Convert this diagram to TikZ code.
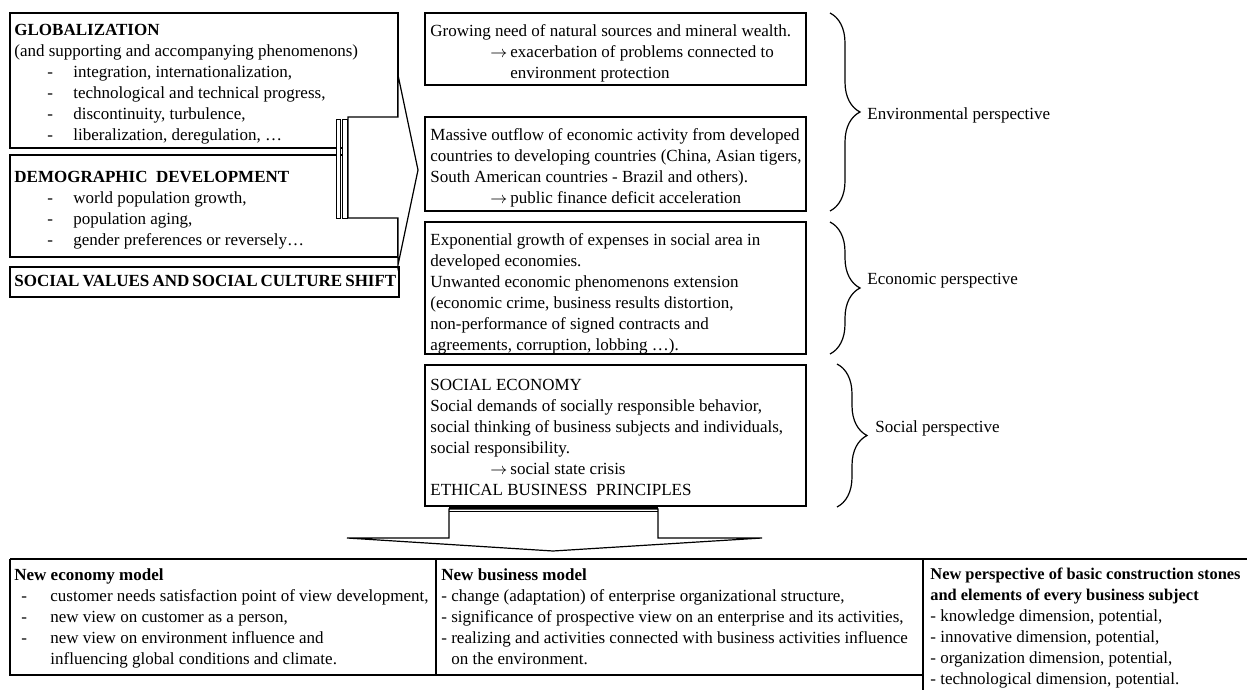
\documentclass[tikz,border=0pt]{standalone}
\usepackage{fontspec}
\setmainfont{Liberation Serif}
\usetikzlibrary{decorations.pathreplacing}

\tikzset{
  box/.style={draw, line width=0.6pt},
  txt/.style={anchor=north west, inner sep=0pt, align=left, font=\fontsize{8.5}{10.5}\selectfont},
  perspbrace/.style={decorate, decoration={brace, amplitude=15pt}, line width=0.6pt},
  persplabel/.style={anchor=west, inner sep=0pt, font=\fontsize{8.5}{10.5}\selectfont},
}
\newcommand{\dashrow}[2]{\hspace*{#1}\makebox[#2][l]{-}}
\newcommand{\arrowrow}{\hspace*{30pt}\makebox[10pt][l]{$\rightarrow$}}

\begin{document}
\begin{tikzpicture}[x=0.5pt,y=-0.5pt]
    \useasboundingbox (0,0) rectangle (1247,690);
    % left boxes
    \draw[box] (10,13) rectangle (398,148);
    \draw[box] (10,155) rectangle (398,257);
    \draw[box] (10,267) rectangle (399,297);
    \node[txt] (glob) at (14,24) {\textbf{GLOBALIZATION}\\
      (and supporting and accompanying phenomenons)\\
      \dashrow{16.5pt}{13pt}integration, internationalization,\\
      \dashrow{16.5pt}{13pt}technological and technical progress,\\
      \dashrow{16.5pt}{13pt}discontinuity, turbulence,\\
      \dashrow{16.5pt}{13pt}liberalization, deregulation, …};
    \node[txt] (demo) at (14,171) {\textbf{DEMOGRAPHIC\ \ DEVELOPMENT}\\
      \dashrow{16.5pt}{13pt}world population growth,\\
      \dashrow{16.5pt}{13pt}population aging,\\
      \dashrow{16.5pt}{13pt}gender preferences or reversely…};
    \node[txt] (values) at (14,275) {\makebox[191pt][s]{\textbf{SOCIAL VALUES AND SOCIAL CULTURE SHIFT}}};
    % striped arrow to the right
    \draw[box, fill=white] (348,117) -- (398,117) -- (398,75) -- (418,170) -- (398,265) -- (398,218) -- (348,218) -- cycle;
    \draw[line width=0.5pt, fill=white] (336,120) rectangle (340,218);
    \draw[line width=0.5pt, fill=white] (342,120) rectangle (347,218);
    % right boxes
    \draw[box] (425,13) rectangle (806,85);
    \draw[box] (425,117) rectangle (806,211);
    \draw[box] (425,222) rectangle (806,354);
    \draw[box] (425,365) rectangle (806,506);
    \node[txt] (nature) at (430,24) {Growing need of natural sources and mineral wealth.\\
      \arrowrow exacerbation of problems connected to\\
      \hspace*{40pt}environment protection};
    \node[txt] (outflow) at (430,128) {Massive outflow of economic activity from developed\\
      countries to developing countries (China, Asian tigers,\\
      South American countries - Brazil and others).\\
      \arrowrow public finance deficit acceleration};
    \node[txt] (expenses) at (430,233) {Exponential growth of expenses in social area in\\
      developed economies.\\
      Unwanted economic phenomenons extension\\
      (economic crime, business results distortion,\\
      non-performance of signed contracts and\\
      agreements, corruption, lobbing …).};
    \node[txt] (socecon) at (430,379) {SOCIAL ECONOMY\\
      Social demands of socially responsible behavior,\\
      social thinking of business subjects and individuals,\\
      social responsibility.\\
      \arrowrow social state crisis\\
      ETHICAL BUSINESS\ \ PRINCIPLES};
    % braces
    \draw[perspbrace] (830,13) -- (830,211);
    \draw[perspbrace] (830,222) -- (830,354);
    \draw[perspbrace] (837,364) -- (837,507);
    \node[persplabel] (envp) at (867,115) {Environmental perspective};
    \node[persplabel] (econp) at (867,281) {Economic perspective};
    \node[persplabel] (socp) at (875,428) {Social perspective};
    % arrow down
    \draw[box, fill=white] (449,509) -- (658,509) -- (658,538) -- (762,538) -- (553,551) -- (347,538) -- (449,538) -- cycle;
    \draw[line width=0.8pt] (449,508) -- (658,508);
    \draw[line width=0.8pt] (449,511.5) -- (658,511.5);
    % bottom table
    \draw[box] (10,559) -- (1247,559);
    \draw[box] (10,559) -- (10,675) -- (923,675);
    \draw[box] (436,559) -- (436,675);
    \draw[box] (923,559) -- (923,690);
    \node[txt] (ecomodel) at (14,568) {\textbf{New economy model}\\
      \dashrow{3.5pt}{14.5pt}customer needs satisfaction point of view development,\\
      \dashrow{3.5pt}{14.5pt}new view on customer as a person,\\
      \dashrow{3.5pt}{14.5pt}new view on environment influence and\\
      \hspace*{18pt}influencing global conditions and climate.};
    \node[txt] (busmodel) at (441,568) {\textbf{New business model}\\
      - change (adaptation) of enterprise organizational structure,\\
      - significance of prospective view on an enterprise and its activities,\\
      - realizing and activities connected with business activities influence\\
      \hspace*{5pt}on the environment.};
    \node[txt] (stones) at (930,568) {{\fontsize{8.2}{10.5}\selectfont\textbf{New perspective of basic construction stones}}\\
      {\fontsize{8.2}{10.5}\selectfont\textbf{and elements of every business subject}}\\
      - knowledge dimension, potential,\\
      - innovative dimension, potential,\\
      - organization dimension, potential,\\
      - technological dimension, potential.};
\end{tikzpicture}
\end{document}
